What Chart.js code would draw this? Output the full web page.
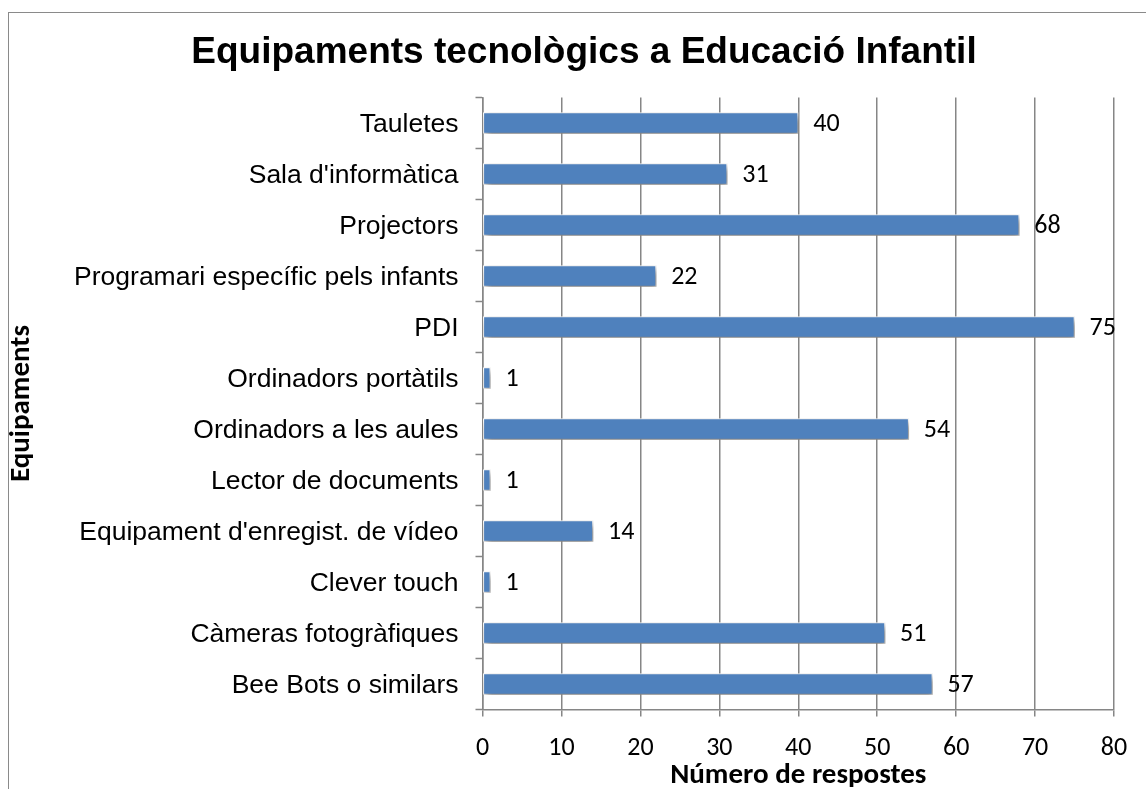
<!DOCTYPE html>
<html>
<head>
<meta charset="utf-8">
<script src="https://cdn.jsdelivr.net/npm/chart.js@4.4.0/dist/chart.umd.min.js"></script>
<style>
  html, body { margin: 0; padding: 0; background: #fff; overflow: hidden; }
  #frame { position: absolute; left: 8px; top: 12px; width: 1300px; height: 900px; border: 1.5px solid #8a8a8a; box-sizing: border-box; }
  #wrap { position: absolute; left: 0; top: 0; width: 1146px; height: 789px; }
</style>
</head>
<body>
<div id="frame"></div>
<div id="wrap"><canvas id="c" width="1146" height="789"></canvas></div>
<script>
const chartTitle = "Equipaments tecnològics a Educació Infantil";
const categories = [
  "Tauletes",
  "Sala d'informàtica",
  "Projectors",
  "Programari específic pels infants",
  "PDI",
  "Ordinadors portàtils",
  "Ordinadors a les aules",
  "Lector de documents",
  "Equipament d'enregist. de vídeo",
  "Clever touch",
  "Càmeras fotogràfiques",
  "Bee Bots o similars"
];
const responses = [40, 31, 68, 22, 75, 1, 54, 1, 14, 1, 51, 57];
const xTitle = "Número de respostes";
const yTitle = "Equipaments";
const xMin = 0, xMax = 80, xStep = 10;

const ARIAL = "'Liberation Sans', Arial, sans-serif";
const CALIBRI = "Carlito, Calibri, Lato, sans-serif";
const GRID = '#868686';

const shadowPlugin = {
  id: 'barShadow',
  beforeDatasetsDraw(chart) {
    const ctx = chart.ctx;
    ctx.save();
    ctx.shadowColor = 'rgba(0,0,0,0.55)';
    ctx.shadowBlur = 7;
    ctx.shadowOffsetX = 2;
    ctx.shadowOffsetY = 4;
  },
  afterDatasetsDraw(chart) {
    chart.ctx.restore();
  }
};

const labelPlugin = {
  id: 'valueLabels',
  afterDatasetsDraw(chart) {
    const ctx = chart.ctx;
    const meta = chart.getDatasetMeta(0);
    ctx.save();
    ctx.font = "26px " + CALIBRI;
    ctx.fillStyle = '#000';
    ctx.textAlign = 'left';
    ctx.textBaseline = 'middle';
    meta.data.forEach((bar, i) => {
      ctx.fillText(String(chart.data.datasets[0].data[i]), bar.x + 15, bar.y + 1);
    });
    ctx.restore();
  }
};

const titlePlugin = {
  id: 'bigTitle',
  afterDraw(chart) {
    const ctx = chart.ctx;
    ctx.save();
    ctx.font = "bold 37px " + ARIAL;
    ctx.fillStyle = '#000';
    ctx.textAlign = 'center';
    ctx.textBaseline = 'middle';
    ctx.fillText(chartTitle, 584, 53);
    ctx.restore();
  }
};

new Chart(document.getElementById('c'), {
  type: 'bar',
  data: {
    labels: categories,
    datasets: [{
      data: responses,
      backgroundColor: '#4F81BD',
      borderColor: '#ffffff',
      borderWidth: 1.2,
      borderSkipped: false,
      barThickness: 21
    }]
  },
  options: {
    indexAxis: 'y',
    responsive: false,
    animation: false,
    layout: { padding: { left: 7, right: 32, top: 97.5, bottom: 0 } },
    plugins: {
      legend: { display: false },
      tooltip: { enabled: false },
      title: { display: false }
    },
    scales: {
      x: {
        min: xMin, max: xMax,
        ticks: { stepSize: xStep, color: '#000', font: { family: CALIBRI, size: 26 }, padding: 16 },
        grid: { color: GRID, lineWidth: 1.5, tickLength: 7, tickColor: GRID, tickWidth: 1.5 },
        border: { color: GRID, width: 1.5 },
        title: { display: true, text: xTitle, color: '#000', font: { family: CALIBRI, size: 29, weight: 'bold', lineHeight: 0.9 }, padding: 0 },
        afterFit(scale) { scale.height = 79.5; }
      },
      y: {
        ticks: { color: '#000', font: { family: ARIAL, size: 26.5 }, padding: 17, labelOffset: 2 },
        grid: { drawOnChartArea: false, offset: true, color: GRID, tickLength: 7, tickColor: GRID, tickWidth: 1.5 },
        border: { color: GRID, width: 1.5 },
        title: { display: true, text: yTitle, color: '#000', font: { family: CALIBRI, size: 29, weight: 'bold', lineHeight: 1.0 }, padding: 0 },
        afterFit(scale) { scale.width = 475.5; }
      }
    }
  },
  plugins: [shadowPlugin, labelPlugin, titlePlugin]
});
</script>
</body>
</html>
